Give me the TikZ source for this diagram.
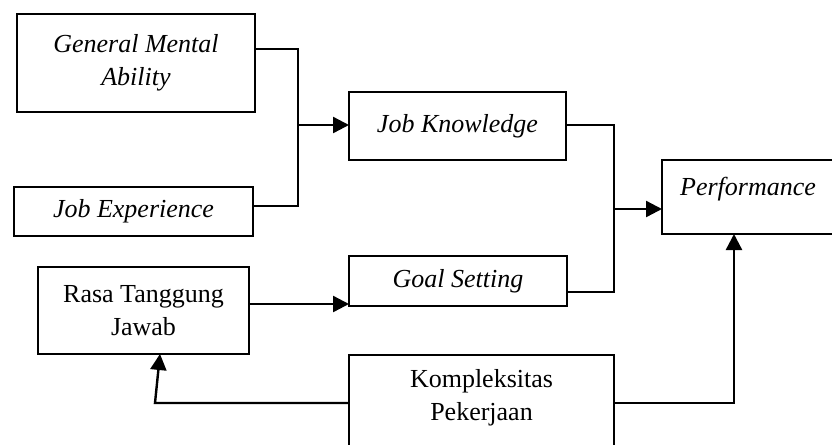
\documentclass[tikz,border=0pt]{standalone}
\usepackage{fontspec}
\setmainfont{Liberation Serif}
\usetikzlibrary{arrows.meta, positioning}

\begin{document}
\begin{tikzpicture}[
    x=0.5pt, y=-0.5pt,
    font=\fontsize{13}{16.5}\selectfont,
    box/.style={
        draw, line width=0.8pt, outer sep=0pt,
        align=center, inner sep=2pt
    },
    openbox/.style={
        outer sep=0pt, align=center, inner sep=2pt
    },
    link/.style={
        line width=1.2pt
    },
    arrow/.style={
        -{Triangle[length=8pt, width=8pt]}, line width=1.2pt
    }
]
\useasboundingbox (0,0) rectangle (832,445);
\clip (0,0) rectangle (832,445);

% --- left column: antecedents ---
\node[box, minimum width=119pt, minimum height=49pt] (gma) at (136,63)
  {\textit{General Mental}\\\textit{Ability}};
\node[box, minimum width=119.5pt, minimum height=24.5pt] (jexp) at (133.5,211.5)
  {\textit{Job Experience}};
\node[box, minimum width=105.5pt, minimum height=43.5pt] (rasa) at (143.5,310.5)
  {Rasa Tanggung\\Jawab};

% --- middle column ---
\node[box, minimum width=108.5pt, minimum height=34pt] (jknow) at (457.5,126)
  {\textit{Job Knowledge}};
\node[box, minimum width=109pt, minimum height=25pt] (goal) at (458,281)
  {\textit{Goal Setting}};
\node[openbox, minimum width=132.5pt, minimum height=42.5pt] (komp) at (481.5,397.5)
  {Kompleksitas\\Pekerjaan};
% box runs off the bottom of the page
\draw[line width=0.8pt] (komp.south west |- 0,450) -- (komp.north west)
  -- (komp.north east) -- (komp.south east |- 0,450);

% --- outcome ---
\node[box, minimum width=86pt, minimum height=37pt, text depth=11pt] (perf) at (748,197)
  {\textit{Performance}};

% --- joints of the connectors ---
\coordinate (split1) at (298,125);
\coordinate (split2) at (614,209);
\coordinate (bend) at (155,403);

% --- connectors ---
\draw[link] (gma.east |- 0,49) -| (split1) |- (jexp.east |- 0,206);
\draw[arrow] (split1) -- (jknow.west |- split1);
\draw[link] (jknow.east |- 0,125) -| (split2) |- (goal.east |- 0,292);
\draw[arrow] (split2) -- (perf.west |- split2);
\draw[arrow] (rasa.east |- 0,304) -- (goal.west |- 0,304);
\draw[arrow] (komp.east |- 0,403) -| (perf.south -| 734,0);
\draw[arrow] (komp.west |- 0,403) -- (bend) -- (rasa.south -| 160,0);

\end{tikzpicture}
\end{document}
